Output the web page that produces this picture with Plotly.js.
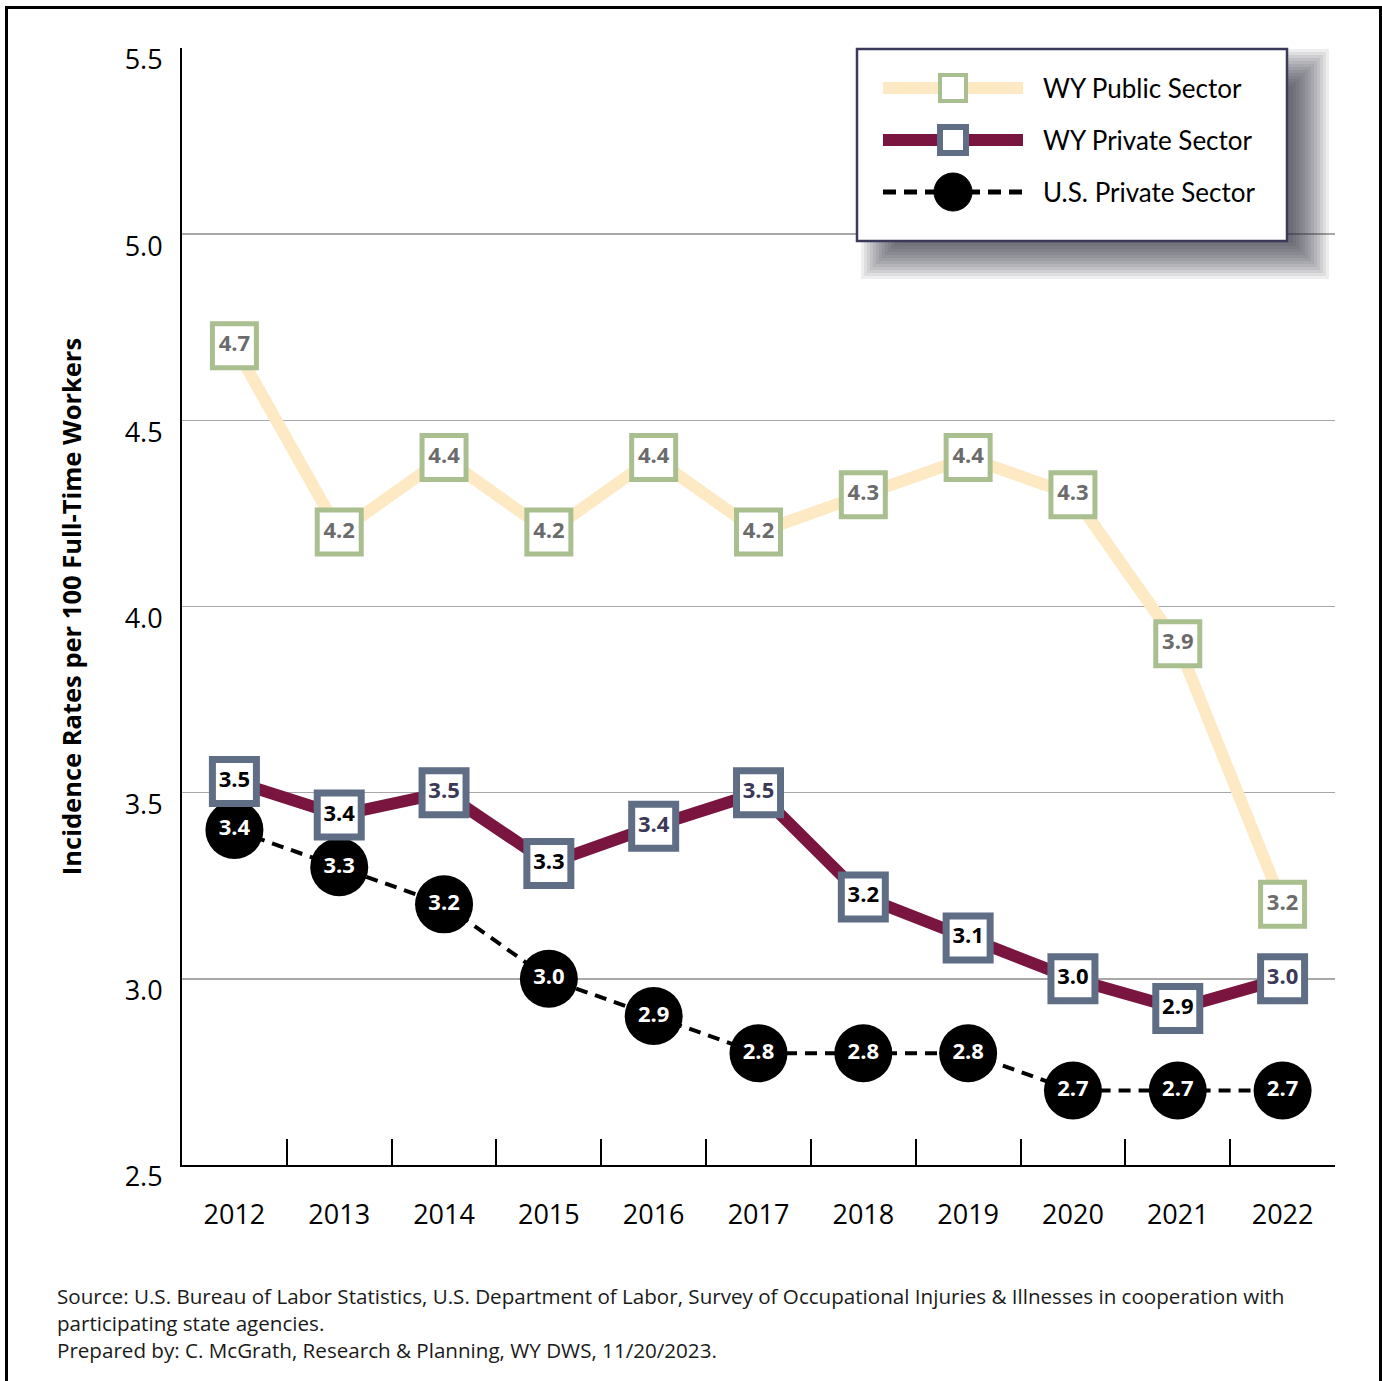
<!DOCTYPE html>
<html>
<head>
<meta charset="utf-8">
<script src="https://cdn.plot.ly/plotly-3.0.1.min.js"></script>
<style>html,body{margin:0;padding:0;background:#fff;}#chart{width:1382px;height:1381px;}</style>
</head>
<body>
<div id="chart"></div>
<script>
// ---- data ----
var years = ["2012","2013","2014","2015","2016","2017","2018","2019","2020","2021","2022"];
var wyPublic = [4.7, 4.2, 4.4, 4.2, 4.4, 4.2, 4.3, 4.4, 4.3, 3.9, 3.2];
var wyPrivate = [3.53, 3.44, 3.5, 3.31, 3.41, 3.5, 3.22, 3.11, 3.0, 2.92, 3.0];   // marker heights as drawn
var wyPrivateLabels = ["3.5","3.4","3.5","3.3","3.4","3.5","3.2","3.1","3.0","2.9","3.0"];
var usPrivate = [3.4, 3.3, 3.2, 3.0, 2.9, 2.8, 2.8, 2.8, 2.7, 2.7, 2.7];
var yTicks = [2.5, 3.0, 3.5, 4.0, 4.5, 5.0, 5.5];
var seriesNames = ["WY Public Sector", "WY Private Sector", "U.S. Private Sector"];
var yTitle = "Incidence Rates per 100 Full-Time Workers";
var footnote = "Source: U.S. Bureau of Labor Statistics, U.S. Department of Labor, Survey of Occupational Injuries &amp; Illnesses in cooperation with<br>participating state agencies.<br>Prepared by: C. McGrath, Research &amp; Planning, WY DWS, 11/20/2023.";

// ---- styles ----
var privateLabelColors = ["#000","#000","#3b3858","#000","#3b3858","#3b3858","#000","#000","#000","#000","#3b3858"];
var PUB_LINE = "#fde9c4", PUB_MK = "#a9bf8f";
var PRI_LINE = "#7a1540", PRI_MK = "#5f6d85";

var W = 1382, H = 1381, ML = 182, MR = 47, MT = 48, MB = 216;
var PW = W - ML - MR, PH = H - MT - MB;
function X(px){ return (px - ML) / PW; }
function Y(py){ return (H - MB - py) / PH; }

var traces = [
  {
    x: years, y: wyPublic, name: seriesNames[0], type: "scatter", mode: "lines+markers+text",
    line: {color: PUB_LINE, width: 12},
    marker: {symbol: "square", size: 44, color: "#fff", line: {color: PUB_MK, width: 5}},
    text: wyPublic.map(function(v){return v.toFixed(1);}), textposition: "middle center",
    textfont: {family: "Open Sans", size: 22, color: "#6b6b6b", weight: "bold"},
    showlegend: false, cliponaxis: false
  },
  {
    x: years, y: usPrivate, name: seriesNames[2], type: "scatter", mode: "lines+markers+text",
    line: {color: "#000", width: 4, dash: "12px,8px"},
    marker: {symbol: "circle", size: 58, color: "#000"},
    text: usPrivate.map(function(v){return v.toFixed(1);}), textposition: "middle center",
    textfont: {family: "Open Sans", size: 22, color: "#fff", weight: "bold"},
    showlegend: false, cliponaxis: false
  },
  {
    x: years, y: wyPrivate, name: seriesNames[1], type: "scatter", mode: "lines+markers+text",
    line: {color: PRI_LINE, width: 12},
    marker: {symbol: "square", size: 44, color: "#fff", line: {color: PRI_MK, width: 7}},
    text: wyPrivateLabels, textposition: "middle center",
    textfont: {family: "Open Sans", size: 22, color: privateLabelColors, weight: "bold"},
    showlegend: false, cliponaxis: false
  }
];

// ---- legend drawn with shapes ----
var shapes = [];
// page border
shapes.push({type: "rect", xref: "paper", yref: "paper", x0: X(6.5), x1: X(1380.5), y0: Y(1400), y1: Y(7.5),
  line: {color: "#000", width: 3}, fillcolor: "rgba(0,0,0,0)"});
// soft shadow layers
var bx0 = 857, bx1 = 1287, by0 = 49, by1 = 241, dx = 16, dy = 12;
for (var s = 26; s >= -10; s -= 3) {
  shapes.push({type: "rect", xref: "paper", yref: "paper",
    x0: X(bx0 + dx - s + 14), x1: X(bx1 + dx + s), y0: Y(by1 + dy + s), y1: Y(by0 + dy - s + 14),
    line: {width: 0}, fillcolor: "rgba(40,40,55,0.08)"});
}
shapes.push({type: "rect", xref: "paper", yref: "paper", x0: X(bx0), x1: X(bx1), y0: Y(by1), y1: Y(by0),
  line: {color: "#3b3a5a", width: 2.5}, fillcolor: "#fff"});
var rows = [88, 140, 192], lx0 = 883, lx1 = 1023, mx = 953;
shapes.push({type: "line", xref: "paper", yref: "paper", x0: X(lx0), x1: X(lx1), y0: Y(rows[0]), y1: Y(rows[0]), line: {color: PUB_LINE, width: 12}});
shapes.push({type: "rect", xref: "paper", yref: "paper", x0: X(mx-13), x1: X(mx+13), y0: Y(rows[0]+13), y1: Y(rows[0]-13), line: {color: PUB_MK, width: 4}, fillcolor: "#fff"});
shapes.push({type: "line", xref: "paper", yref: "paper", x0: X(lx0), x1: X(lx1), y0: Y(rows[1]), y1: Y(rows[1]), line: {color: PRI_LINE, width: 12}});
shapes.push({type: "rect", xref: "paper", yref: "paper", x0: X(mx-13), x1: X(mx+13), y0: Y(rows[1]+13), y1: Y(rows[1]-13), line: {color: PRI_MK, width: 6}, fillcolor: "#fff"});
shapes.push({type: "line", xref: "paper", yref: "paper", x0: X(lx0), x1: X(lx1), y0: Y(rows[2]), y1: Y(rows[2]), line: {color: "#000", width: 5, dash: "13px,8px"}});
shapes.push({type: "circle", xref: "paper", yref: "paper", x0: X(mx-19), x1: X(mx+19), y0: Y(rows[2]+19), y1: Y(rows[2]-19), line: {color: "#000", width: 1}, fillcolor: "#000"});

var annotations = seriesNames.map(function(n, i){
  return {xref: "paper", yref: "paper", x: X(1041), y: Y(rows[i]), xanchor: "left", yanchor: "middle",
    text: n, showarrow: false, font: {family: "Lato", size: 26, color: "#000"}};
});
annotations.push({xref: "paper", yref: "paper", x: X(55), y: Y(1280), xanchor: "left", yanchor: "top", align: "left",
  text: footnote, showarrow: false, font: {family: "Open Sans", size: 20.6, color: "#1a1a1a"}});

var layout = {
  width: W, height: H,
  margin: {l: ML, r: MR, t: MT, b: MB, pad: 0},
  paper_bgcolor: "#fff", plot_bgcolor: "#fff",
  showlegend: false,
  xaxis: {
    type: "category", categoryorder: "array", categoryarray: years, range: [-0.5, 10.5],
    tickson: "boundaries", ticks: "inside", ticklen: 26, tickwidth: 2, tickcolor: "#000",
    showline: true, linecolor: "#000", linewidth: 2, showgrid: false, zeroline: false,
    tickfont: {family: "Open Sans", size: 27, color: "#000"}, ticklabelstandoff: 25
  },
  yaxis: {
    range: [2.5, 5.5], tickvals: yTicks, ticktext: yTicks.map(function(v){return v.toFixed(1);}),
    showline: true, linecolor: "#000", linewidth: 2, ticks: "", ticklen: 0,
    showgrid: true, gridcolor: "#a8a8a8", gridwidth: 1.5, zeroline: false,
    tickfont: {family: "Open Sans", size: 27, color: "#000"}, ticklabelstandoff: 12, ticklabelshift: 12,
    title: {text: "<b>" + yTitle + "</b>", font: {family: "Open Sans", size: 25.5, color: "#000"}, standoff: 36}
  },
  shapes: shapes,
  annotations: annotations
};

Plotly.newPlot("chart", traces, layout, {displayModeBar: false, staticPlot: true});
</script>
</body>
</html>
